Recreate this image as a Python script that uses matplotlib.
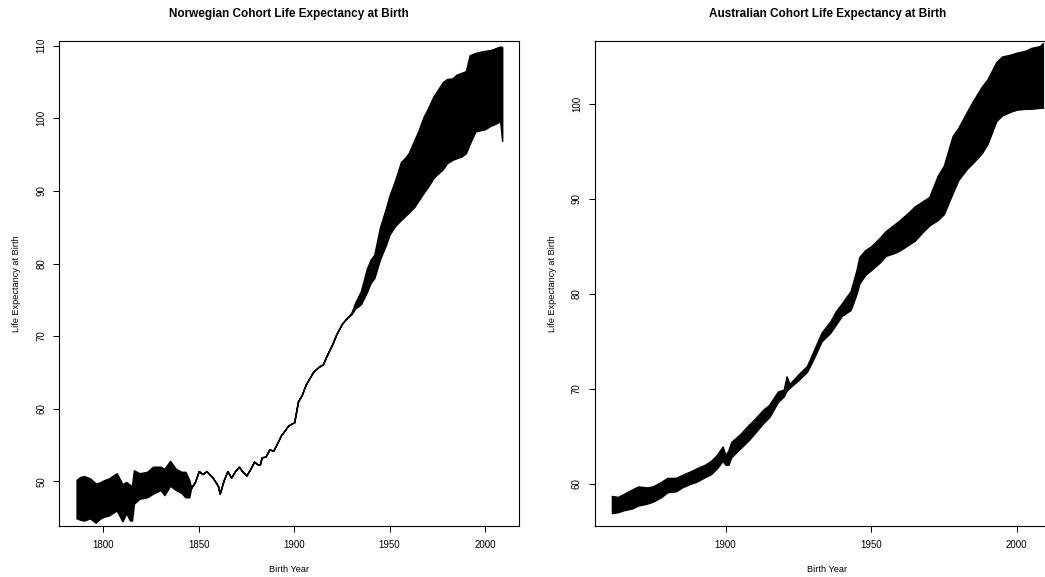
import matplotlib
matplotlib.use("Agg")
import matplotlib.pyplot as plt

plt.rcParams["font.family"] = ["Liberation Sans", "DejaVu Sans"]

# Norway, cohort life expectancy band (lower / upper edge)
nor_years = [1786, 1788, 1790, 1793, 1796, 1798, 1800, 1803, 1807, 1810, 1812, 1814, 1815,
             1816, 1819, 1823, 1826, 1830, 1832, 1835, 1838, 1841, 1843, 1845, 1846, 1848,
             1850, 1852, 1854, 1857, 1860, 1861, 1863, 1865, 1867, 1869, 1871, 1873, 1875,
             1877, 1879, 1881, 1882, 1883, 1885, 1887, 1889, 1891, 1893, 1895, 1897, 1899,
             1900, 1902, 1904, 1906, 1908, 1910, 1913, 1915, 1917, 1920, 1922, 1925, 1928,
             1930, 1932, 1935, 1938, 1940, 1942, 1945, 1948, 1950, 1953, 1956, 1958, 1960,
             1963, 1965, 1968, 1970, 1973, 1975, 1978, 1980, 1983, 1985, 1988, 1990, 1992,
             1995, 1998, 2000, 2003, 2005, 2008, 2009]
nor_hi = [50.2, 50.6, 50.7, 50.4, 49.7, 49.8, 50.1, 50.4, 51.1, 49.6, 49.9, 49.5, 49.3,
          51.5, 51.1, 51.3, 52.0, 52.0, 51.7, 52.8, 51.7, 51.3, 51.3, 50.2, 49.1, 49.9,
          51.4, 51.0, 51.4, 50.6, 49.4, 48.3, 50.1, 51.4, 50.5, 51.4, 52.0, 51.3, 50.8,
          51.7, 52.7, 52.3, 52.3, 53.3, 53.4, 54.4, 54.2, 55.2, 56.3, 57.0, 57.7, 58.0,
          58.1, 61.0, 61.9, 63.3, 64.2, 65.1, 65.8, 66.1, 67.3, 68.9, 70.2, 71.7, 72.6,
          73.2, 74.6, 76.2, 79.2, 80.5, 81.2, 85.0, 87.5, 89.4, 91.5, 94.0, 94.5, 95.2,
          97.0, 98.2, 100.3, 101.3, 103.0, 103.8, 105.0, 105.4, 105.5, 106.0, 106.3, 106.5, 108.7,
          109.0, 109.2, 109.3, 109.4, 109.6, 109.9, 109.8]
nor_lo = [44.9, 44.7, 44.6, 44.9, 44.3, 44.8, 45.1, 45.3, 46.0, 44.5, 45.6, 44.6, 44.6,
          46.9, 47.6, 47.8, 48.3, 48.8, 48.1, 49.4, 48.8, 48.4, 47.8, 47.8, 49.1, 49.9,
          51.4, 51.0, 51.4, 50.6, 49.4, 48.3, 50.1, 51.4, 50.5, 51.4, 52.0, 51.3, 50.8,
          51.7, 52.7, 52.3, 52.3, 53.3, 53.4, 54.4, 54.2, 55.2, 56.3, 57.0, 57.7, 58.0,
          58.1, 61.0, 61.9, 63.3, 64.2, 65.1, 65.8, 66.1, 67.3, 68.9, 70.2, 71.7, 72.6,
          73.0, 73.8, 74.4, 76.0, 77.3, 78.0, 80.6, 82.5, 84.0, 85.2, 86.0, 86.5, 87.0,
          87.8, 88.6, 89.8, 90.5, 91.8, 92.3, 93.0, 93.8, 94.3, 94.5, 94.8, 95.2, 96.5,
          98.2, 98.4, 98.5, 99.0, 99.2, 99.6, 96.9]

# Australia
aus_years = [1861, 1863, 1865, 1868, 1870, 1873, 1875, 1878, 1880, 1883, 1885, 1888, 1890,
             1893, 1895, 1897, 1899, 1900, 1901, 1902, 1905, 1908, 1910, 1913, 1915, 1918,
             1920, 1921, 1922, 1925, 1928, 1930, 1933, 1936, 1938, 1940, 1943, 1945, 1946,
             1948, 1950, 1953, 1955, 1958, 1960, 1963, 1965, 1968, 1970, 1973, 1975, 1978,
             1980, 1983, 1985, 1988, 1990, 1993, 1995, 1998, 2000, 2003, 2005, 2008, 2009]
aus_hi = [58.7, 58.6, 58.9, 59.4, 59.7, 59.6, 59.7, 60.2, 60.6, 60.6, 60.9, 61.3, 61.6,
          62.0, 62.4, 63.0, 63.9, 63.0, 63.5, 64.4, 65.2, 66.2, 66.8, 67.8, 68.3, 69.7,
          69.9, 71.3, 70.5, 71.5, 72.4, 73.8, 75.9, 77.1, 78.2, 79.0, 80.3, 82.5, 83.9,
          84.6, 85.0, 85.9, 86.6, 87.3, 87.8, 88.6, 89.2, 89.8, 90.2, 92.5, 93.5, 96.6,
          97.5, 99.2, 100.3, 101.8, 102.6, 104.4, 105.0, 105.2, 105.4, 105.6, 105.9, 106.1, 106.4]
aus_lo = [56.9, 57.0, 57.2, 57.4, 57.7, 57.9, 58.1, 58.6, 59.1, 59.2, 59.6, 60.0, 60.2,
          60.7, 61.0, 61.6, 62.4, 62.0, 62.0, 62.8, 63.7, 64.6, 65.3, 66.4, 67.0, 68.6,
          69.2, 69.8, 70.1, 70.9, 71.8, 73.0, 75.0, 75.9, 76.8, 77.7, 78.3, 80.0, 81.1,
          82.0, 82.5, 83.3, 84.0, 84.3, 84.6, 85.2, 85.6, 86.6, 87.2, 87.8, 88.4, 90.6,
          92.0, 93.2, 93.8, 94.8, 95.8, 98.2, 98.8, 99.2, 99.4, 99.5, 99.5, 99.6, 99.6]

nor_xticks = [1800, 1850, 1900, 1950, 2000]
nor_yticks = [50, 60, 70, 80, 90, 100, 110]
aus_xticks = [1900, 1950, 2000]
aus_yticks = [60, 70, 80, 90, 100]


def panel(ax, years, lo, hi, title, xticks, yticks, xlim, ylim):
    ax.fill_between(years, lo, hi, color="black", edgecolor="black", linewidth=1.1)
    ax.set_xlim(*xlim)
    ax.set_ylim(*ylim)
    ax.set_xticks(xticks)
    ax.set_yticks(yticks)
    ax.set_yticklabels([str(v) for v in yticks], rotation=90, va="center")
    ax.tick_params(length=4.2, width=0.75, labelsize=7, pad=5, color="black")
    ax.tick_params(axis="x", pad=6)
    for s in ax.spines.values():
        s.set_linewidth(0.8)
        s.set_color("black")
    ax.set_title(title, fontsize=8.5, fontweight="bold", pad=17)
    ax.set_xlabel("Birth Year", fontsize=6.6, labelpad=11)
    ax.set_ylabel("Life Expectancy at Birth", fontsize=6.6, labelpad=11)


def main():
    fig = plt.figure(figsize=(10.45, 5.77), dpi=100)
    ax1 = fig.add_axes([0.0567, 0.0884, 0.4399, 0.8411])
    ax2 = fig.add_axes([0.5691, 0.0884, 0.4453, 0.8411])

    panel(ax1, nor_years, nor_lo, nor_hi, "Norwegian Cohort Life Expectancy at Birth",
          nor_xticks, nor_yticks, (1776.9, 2017.8), (43.84, 110.7))
    panel(ax2, aus_years, aus_lo, aus_hi, "Australian Cohort Life Expectancy at Birth",
          aus_xticks, aus_yticks, (1855.07, 2014.92), (55.54, 106.67))

    fig.savefig("out.png", dpi=100)
    plt.close(fig)


main()
